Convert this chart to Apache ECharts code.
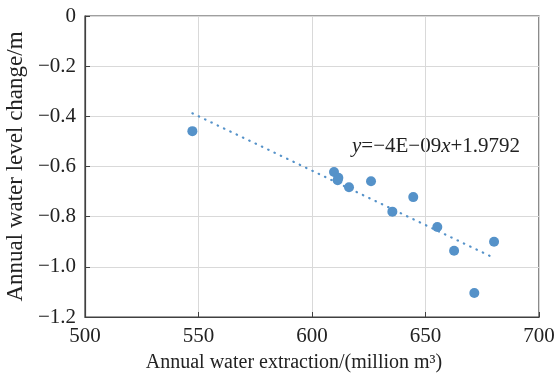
<!DOCTYPE html>
<html><head><meta charset="utf-8">
<script src="https://cdn.jsdelivr.net/npm/echarts@6/dist/echarts.min.js"></script>
<style>html,body{margin:0;padding:0;background:#fff}#c{width:555px;height:376px}</style>
</head><body><div id="c"></div>
<script>
const extraction = [547.3, 609.7, 611.6, 611.3, 616.3, 626.0, 635.4, 644.6, 655.2, 662.6, 671.5, 680.2];
const levelChange = [-0.459, -0.622, -0.645, -0.655, -0.683, -0.659, -0.780, -0.722, -0.841, -0.936, -1.104, -0.900];
const trendX = [547.3, 679.4];
const trendY = [-0.388, -0.961];
const xTicks = [500, 550, 600, 650, 700];
const yTicks = [0, -0.2, -0.4, -0.6, -0.8, -1.0, -1.2];
const equation = ['y', '=−4E−09', 'x', '+1.9792'];

const FONT = 'Liberation Serif';
const blue = '#5592c9';
const chart = echarts.init(document.getElementById('c'));
chart.setOption({
  animation: false,
  backgroundColor: '#fff',
  grid: { left: 85, right: 16, top: 16, bottom: 59, show: true, borderColor: '#404040', borderWidth: 1.2,
          containLabel: false, outerBoundsMode: 'none' },
  xAxis: {
    type: 'value', min: xTicks[0], max: xTicks[xTicks.length - 1], interval: 50,
    name: 'Annual water extraction/(million m³)', nameLocation: 'middle', nameGap: 36,
    nameTextStyle: { fontFamily: FONT, fontSize: 20, color: '#222', padding: [0, 36, 0, 0] },
    axisLine: { show: true, onZero: false, lineStyle: { color: '#404040', width: 1.2 } },
    axisTick: { show: true, inside: true, length: 5, lineStyle: { color: '#404040' } },
    axisLabel: { fontFamily: FONT, fontSize: 21, color: '#222', margin: 9 },
    splitLine: { show: true, lineStyle: { color: '#d9d9d9', width: 1 } }
  },
  yAxis: {
    type: 'value', min: yTicks[yTicks.length - 1], max: yTicks[0], interval: 0.2,
    name: 'Annual water level change/m', nameLocation: 'middle', nameGap: 53,
    nameTextStyle: { fontFamily: FONT, fontSize: 23, color: '#222' },
    axisLine: { show: true, onZero: false, lineStyle: { color: '#404040', width: 1.2 } },
    axisTick: { show: true, inside: true, length: 5, lineStyle: { color: '#404040' } },
    axisLabel: { fontFamily: FONT, fontSize: 21, color: '#222', margin: 9,
      formatter: v => Math.abs(v) < 1e-9 ? '0' : (v < 0 ? '−' : '') + Math.abs(v).toFixed(1) },
    splitLine: { show: true, lineStyle: { color: '#d9d9d9', width: 1 } }
  },
  series: [
    {
      type: 'line', data: trendX.map((x, i) => [x, trendY[i]]), showSymbol: false, symbol: 'none',
      lineStyle: { color: blue, width: 2.2, type: [0.5, 6.5], cap: 'round' }, z: 1
    },
    {
      type: 'scatter', data: extraction.map((x, i) => [x, levelChange[i]]),
      symbolSize: 10, itemStyle: { color: blue, opacity: 1 }, z: 2
    }
  ],
  graphic: [{
    type: 'text', left: 352, top: 136,
    style: {
      text: `{i|${equation[0]}}{n|${equation[1]}}{i|${equation[2]}}{n|${equation[3]}}`,
      rich: {
        i: { fontFamily: FONT, fontSize: 21, fontStyle: 'italic', fill: '#222', color: '#222' },
        n: { fontFamily: FONT, fontSize: 21, fill: '#222', color: '#222' }
      }
    }
  }]
});
</script></body></html>
